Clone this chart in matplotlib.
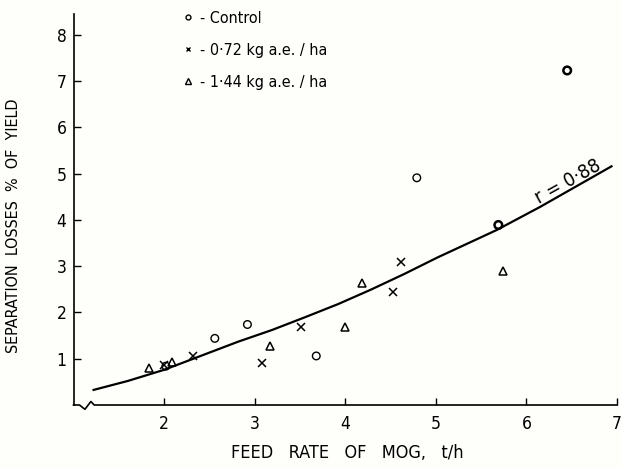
import numpy as np
import matplotlib
matplotlib.use('Agg')
import matplotlib.pyplot as plt
from matplotlib.lines import Line2D

plt.rcParams['font.family'] = ['DejaVu Sans']
plt.rcParams['font.stretch'] = 'condensed'

# separation losses (% of yield) against MOG feed rate (t/h)
control_x = [2.02, 2.56, 2.92, 3.68, 4.79, 5.69, 6.45]
control_y = [0.84, 1.44, 1.74, 1.06, 4.91, 3.89, 7.23]

low_dose_x = [2.00, 2.32, 3.08, 3.51, 4.53, 4.62]
low_dose_y = [0.86, 1.06, 0.90, 1.69, 2.44, 3.09]

high_dose_x = [1.83, 2.09, 3.17, 4.00, 4.19, 5.74]
high_dose_y = [0.79, 0.92, 1.28, 1.68, 2.63, 2.90]

fit_x = [1.21, 1.60, 2.00, 2.82, 3.19, 3.56, 3.92, 4.28, 4.65, 5.02, 5.45, 5.67, 6.15, 6.95]
fit_y = [0.32, 0.52, 0.76, 1.37, 1.62, 1.90, 2.18, 2.49, 2.83, 3.19, 3.58, 3.78, 4.28, 5.17]

x_ticks = [2, 3, 4, 5, 6, 7]
y_ticks = [1, 2, 3, 4, 5, 6, 7, 8]
r_value = 0.88

bg = '#fefefa'
fig = plt.figure(figsize=(6.22, 4.69), dpi=100, facecolor=bg)
ax = fig.add_axes([73.5/622, 1 - 405/469, 543.5/622, 391/469], facecolor=bg)

ax.plot(fit_x, fit_y, color='black', lw=1.6, solid_capstyle='butt', zorder=2)
# the two heavier circles are overplotted readings
ax.scatter(control_x, control_y, s=30, facecolors='none', edgecolors='black',
           linewidths=[1.0, 1.0, 1.0, 1.0, 1.0, 1.8, 1.8], zorder=3)
ax.plot(low_dose_x, low_dose_y, 'x', color='black', ms=5.5, mew=1.1, zorder=3)
ax.plot(high_dose_x, high_dose_y, '^', mfc='none', mec='black', ms=5.5, mew=1.1, zorder=3)

ax.text(6.46, 4.82, 'r = 0·%d' % round(r_value*100), rotation=29,
        ha='center', va='center', fontsize=14)

ax.set_xlim(1.0, 7.0)
ax.set_ylim(0, 8.45)
ax.set_xticks(x_ticks)
ax.set_yticks(y_ticks)
ax.tick_params(direction='in', length=5, width=1.0, labelsize=12.5)
ax.tick_params(axis='y', pad=5)
ax.tick_params(axis='x', pad=7)

for s in ['top', 'right', 'bottom']:
    ax.spines[s].set_visible(False)
ax.spines['left'].set_linewidth(1.2)

# x axis drawn by hand so it can carry the break mark near the origin
bx = [0, 0.011, 0.021, 0.032, 0.038, 1.0]
by = [0, 0, -0.011, 0.009, 0, 0]
ax.plot(bx, by, color='black', lw=1.2, transform=ax.transAxes, clip_on=False)

ax.set_xlabel('FEED   RATE   OF   MOG,   t/h', fontsize=13)
ax.xaxis.set_label_coords(0.503, -0.123)
ax.xaxis.label.set_va('center')
ax.set_ylabel('SEPARATION  LOSSES  %  OF  YIELD', fontsize=11.5)
ax.yaxis.set_label_coords(-0.111, 0.458)
ax.yaxis.label.set_va('center')

handles = [
    Line2D([], [], ls='none', marker='o', mfc='none', mec='black', ms=3.5, mew=1.0),
    Line2D([], [], ls='none', marker='x', color='black', ms=3.5, mew=1.0),
    Line2D([], [], ls='none', marker='^', mfc='none', mec='black', ms=4, mew=1.0),
]
labels = ['- Control', '- 0·72 kg a.e. / ha', '- 1·44 kg a.e. / ha']
fig.legend(handles, labels, loc='upper left', bbox_to_anchor=(182/622, 1 - 11/469),
           frameon=False, fontsize=11.5, borderpad=0, borderaxespad=0,
           handlelength=0.8, handletextpad=0.3, labelspacing=1.05)

fig.savefig('out.png', dpi=100, facecolor=bg)
